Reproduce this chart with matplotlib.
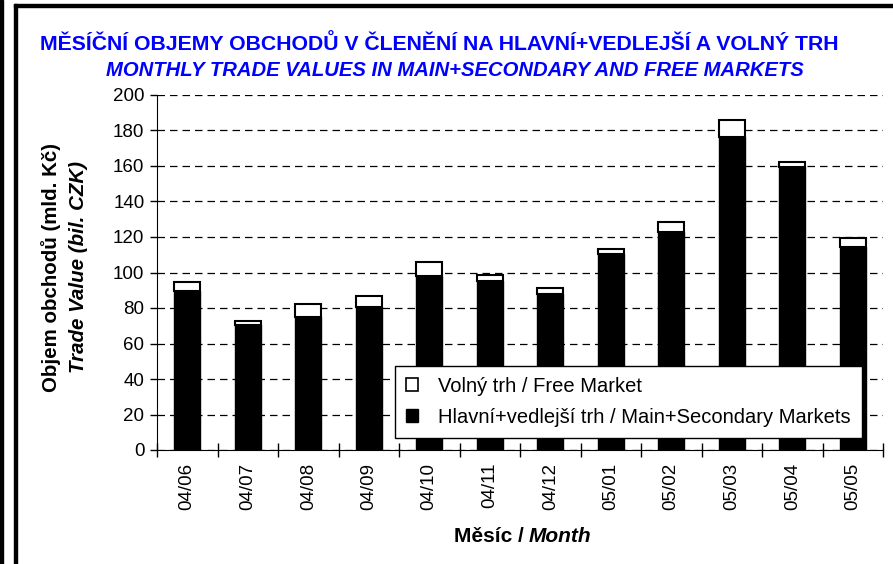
import numpy as np
import matplotlib.pyplot as plt
from matplotlib.patches import Patch, Rectangle

# monthly trade values, bil. CZK
months = ["04/06", "04/07", "04/08", "04/09", "04/10", "04/11",
          "04/12", "05/01", "05/02", "05/03", "05/04", "05/05"]
main_sec = [89.5, 70.5, 75.0, 80.5, 98.0, 95.0, 88.0, 110.5, 123.0, 176.5, 159.5, 114.5]
free_mkt = [5.0, 2.0, 7.5, 6.0, 8.0, 3.5, 3.0, 2.5, 5.5, 9.5, 3.0, 5.0]

yticks = list(range(0, 201, 20))

plt.rcParams['font.family'] = ['Liberation Sans', 'DejaVu Sans']

fig = plt.figure(figsize=(8.93, 5.64), dpi=100)
W, H = 893, 564

# outer frame of the original sheet
fig.patches.append(Rectangle((0, 0), 3 / W, 1, transform=fig.transFigure,
                             color='black', zorder=0))
fig.patches.append(Rectangle((14 / W, 0), 3 / W, 1 - 4 / H, transform=fig.transFigure,
                             color='black', zorder=0))
fig.patches.append(Rectangle((14 / W, 1 - 7 / H), 1, 3 / H, transform=fig.transFigure,
                             color='black', zorder=0))

ax = fig.add_axes([157 / W, 1 - 450 / H, (883 - 157) / W, (450 - 95) / H])

x = np.arange(len(months))
bw = 0.43
ax.bar(x, main_sec, bw, color='black', edgecolor='black', linewidth=1, zorder=3)
ax.bar(x, free_mkt, bw, bottom=main_sec, color='white', edgecolor='black',
       linewidth=1.5, zorder=3)

ax.set_xlim(-0.5, len(months) - 0.5)
ax.set_ylim(0, 200)
ax.set_yticks(yticks)
ax.set_yticklabels([str(v) for v in yticks], fontsize=13.5)
ax.set_xticks(x)
ax.set_xticklabels(months, rotation=90, fontsize=13.5)
ax.tick_params(axis='x', length=0, pad=9)
ax.tick_params(axis='y', length=5, width=1, pad=4)
# ticks between the categories, crossing the axis line
ax.set_xticks(np.arange(-0.5, len(months)), minor=True)
ax.tick_params(axis='x', which='minor', direction='inout', length=10, width=1)

ax.grid(axis='y', linestyle=(0, (6, 4)), color='black', linewidth=0.9, zorder=0)
ax.set_axisbelow(True)
ax.spines['top'].set_visible(False)
ax.spines['right'].set_visible(False)

handles = [Patch(facecolor='white', edgecolor='black', linewidth=1.2),
           Patch(facecolor='black', edgecolor='black')]
leg = ax.legend(handles, ["Volný trh / Free Market",
                          "Hlavní+vedlejší trh / Main+Secondary Markets"],
                loc='lower right', bbox_to_anchor=(862 / W, 1 - 438 / H),
                bbox_transform=fig.transFigure, fontsize=14.5, fancybox=False,
                framealpha=1, edgecolor='black', handlelength=0.6,
                handleheight=0.6, handletextpad=1.0, labelspacing=0.6,
                borderpad=0.55, borderaxespad=0)
leg.get_frame().set_linewidth(1)
leg.set_zorder(5)

# titles
fig.text(439 / W, 1 - 44 / H,
         "MĚSÍČNÍ OBJEMY OBCHODŮ V ČLENĚNÍ NA HLAVNÍ+VEDLEJŠÍ A VOLNÝ TRH",
         ha='center', va='center', color='#0000ff', fontsize=15.3,
         fontweight='bold')
fig.text(455 / W, 1 - 70 / H,
         "MONTHLY TRADE VALUES IN MAIN+SECONDARY AND FREE MARKETS",
         ha='center', va='center', color='#0000ff', fontsize=14.6,
         fontweight='bold', fontstyle='italic')

# y label, two lines
fig.text(51 / W, 1 - 268 / H, "Objem obchodů (mld. Kč)", rotation=90,
         ha='center', va='center', fontsize=14.8, fontweight='bold')
fig.text(78 / W, 1 - 267 / H, "Trade Value (bil. CZK)", rotation=90,
         ha='center', va='center', fontsize=14.8, fontweight='bold',
         fontstyle='italic')

# x label
fig.text(529 / W, 1 - 537 / H, "Měsíc / ", ha='right', va='center',
         fontsize=15, fontweight='bold')
fig.text(529 / W, 1 - 537 / H, "Month", ha='left', va='center',
         fontsize=15, fontweight='bold', fontstyle='italic')

fig.savefig("out.png", dpi=100)
